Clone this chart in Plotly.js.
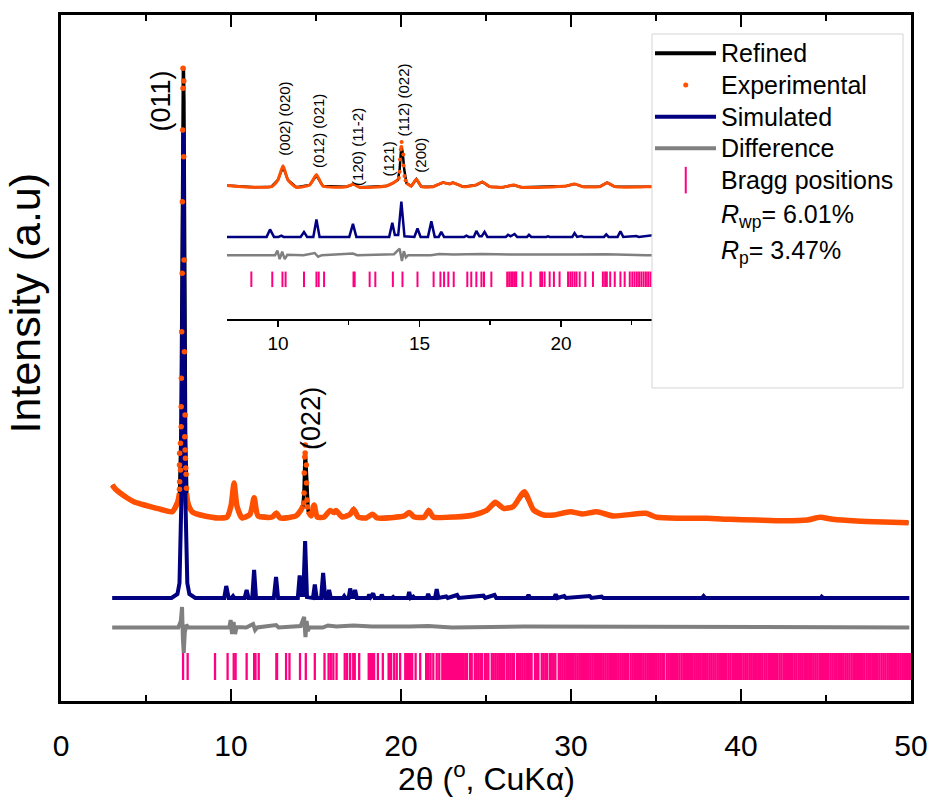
<!DOCTYPE html>
<html><head><meta charset="utf-8">
<script src="https://cdn.plot.ly/plotly-3.0.1.min.js"></script>
<style>body{margin:0;background:#fff}#chart{width:933px;height:802px}</style>
</head><body><div id="chart"></div>
<script>
// ---- Refined profile (black) ----
const refX=[3.01,3.2,3.5,3.9,4.28,4.8,5.26,5.9,6.54,6.87,6.97,7.05,7.12,7.17,7.20,7.23,7.28,7.33,7.40,7.47,7.71,8.2,9.2,9.77,10.0,10.18,10.35,10.65,11.12,11.36,11.59,12.42,12.67,12.89,13.83,14.06,14.24,14.30,14.34,14.37,14.41,14.46,14.54,14.71,14.89,15.07,15.48,15.83,16.07,16.18,16.54,17.01,17.22,17.48,17.95,18.33,18.6,20.19,20.48,20.78,21.37,21.63,21.9,23.19,24.27,25.06,25.55,26.03,26.6,27.25,27.8,28.4,29.0,29.95,30.7,31.5,32.5,34.4,35.05,36.4,38.0,39.35,40.9,42.5,43.9,44.65,45.4,46.8,48.4,49.85];
const refY=[216,212,207.7,203,199.3,196.5,194.3,191.5,189.3,199,207,262,420,600,634,600,420,262,207,197.7,189.3,186,183,184,195,216,195,183,186.8,202,185,184,187.9,183,185,189.6,195,212,238,249,238,212,190,185,196,184,184,190.5,188.4,190.5,184,186.8,191.7,184,183,186.8,183,185,188.4,184,184,190.5,184,184,186,190,198,192.7,194.3,208,191,186,186,189.3,187,189.3,185,187.7,183.7,182.7,182.7,181.7,181,180.3,181,183.7,181.7,180,179,178.3];
// ---- Experimental profile (orange, continuous part) ----
const expX=[3.01,3.2,3.5,3.9,4.28,4.8,5.26,5.9,6.54,6.87,6.97,null,7.38,7.47,7.71,8.2,9.2,9.77,10.0,10.18,10.35,10.65,11.12,11.36,11.59,12.42,12.67,12.89,13.83,14.06,14.24,null,14.54,14.71,14.89,15.07,15.48,15.83,16.07,16.18,16.54,17.01,17.22,17.48,17.95,18.33,18.6,20.19,20.48,20.78,21.37,21.63,21.9,23.19,24.27,25.06,25.55,26.03,26.6,27.25,27.8,28.4,29.0,29.95,30.7,31.5,32.5,34.4,35.05,36.4,38.0,39.35,40.9,42.5,43.9,44.65,45.4,46.8,48.4,49.85];
const expY=[216,212,207.7,203,199.3,196.5,194.3,191.5,189.3,199.3,207.7,null,207.7,197.7,189.3,186,183,184,195,217.9,195,183,186.8,203.2,185.1,184,187.9,183,185.1,189.6,195,null,189.6,185.1,196.1,184,184,190.5,188.4,190.5,184,186.8,191.7,184,183,186.8,183,185.1,188.4,184,184,190.5,184,184,186,191,198.7,192.7,194.3,209.3,191,186,186,189.3,187,189.3,185,187.7,183.7,182.7,182.7,181.7,181,180.3,181,183.7,181.7,180,179,178.3];
// ---- Experimental points on the sharp peaks (orange dots) ----
const expDotX=[7.18,7.22,7.18,7.16,7.22,7.14,7.24,7.13,7.10,7.26,7.08,7.07,7.30,7.07,7.28,7.03,7.30,6.98,7.32,6.97,7.34,7.03,7.36,6.98,7.38,6.97,14.37,14.36,14.34,14.43,14.31,14.44,14.30,14.47,14.27,14.51];
const expDotY=[632.7,620,612.7,571,544.3,499.3,441,427.7,369.3,349.3,322.7,294.3,286,274.3,264.3,257.7,251,247.7,242.7,236,233,231,226.7,219.3,212.7,211.7,256,248,244,236,228,218,208,201,198,194];
// ---- Simulated (navy) ----
const simX=[3.01,6.5,6.85,6.97,7.08,7.15,7.20,7.25,7.32,7.43,7.55,7.9,9.6,9.72,9.86,10.02,10.12,10.2,10.8,10.92,11.03,11.25,11.36,11.47,12.52,12.65,12.77,13.93,14.04,14.13,14.25,14.36,14.47,14.82,14.93,15.04,15.3,15.42,15.54,15.68,15.77,15.87,16.58,16.66,16.74,16.92,17.01,17.12,17.2,17.3,17.4,18.05,18.13,18.22,18.36,18.45,18.8,18.87,18.95,19.48,19.54,19.6,20.4,20.48,20.57,20.72,20.8,21.52,21.6,21.68,22.0,22.1,22.2,22.66,22.75,23.3,23.4,24.85,24.95,25.5,25.6,27.4,27.5,27.6,29.0,29.1,29.2,29.6,29.7,31.1,31.2,31.8,31.9,37.7,37.8,37.9,44.7,44.75,44.85,49.9];
const simY=[103,103,107,118,200,400,571,400,200,118,107,103,103,115,103,103,105,103,103,111,103,103,131,103,103,124,103,103,125.6,106,106,160,104,103,116.5,103,103,128,103,103,111,103,103,105,103,103,112.5,104,104,111,103,103,106.4,104,107.6,103,103,106.4,103,103,104,103,103,109,103,104.5,103,103,107,103,103,112,103,104.5,103,106,103,105.3,103,106,103,103,106,103,103,106.7,103,105,103,105,103,104.3,103,103,105,103,103,104.3,103,103];
// ---- Difference (grey) ----
const diffX=[3.01,5.0,6.9,7.05,7.12,7.17,7.22,7.28,7.36,7.5,9.9,9.98,10.06,10.15,10.24,10.33,10.9,11.3,11.42,11.55,12.65,12.8,14.1,14.3,14.38,14.45,14.52,14.6,15.4,15.7,16.2,17.2,18.3,20.5,21.6,23.0,27.2,49.9];
const diffY=[73.5,74,73.5,80,94,62,48,68,76,73.5,73.5,81,67,79,67,74,73.5,77,71,73.5,76,73.5,75,84,64,80,70,73.5,73.5,75.5,74.5,75.5,74.5,74.5,75,73.5,74.5,73.5];
// ---- Bragg positions (2theta) ----
const braggPos=[7.18,7.45,9.06,9.80,10.16,10.27,10.92,11.36,11.44,11.63,12.67,12.71,13.24,13.44,14.06,14.40,14.93,15.50,15.74,15.87,16.02,16.21,16.69,16.83,17.01,17.19,17.28,17.54,18.10,18.17,18.24,18.30,18.37,18.42,18.64,18.93,19.27,19.33,19.42,19.60,19.75,19.95,20.25,20.33,20.40,20.48,20.55,20.66,20.86,21.13,21.48,21.56,21.62,21.74,21.90,22.10,22.25,22.43,22.52,22.60,22.68,22.76,22.84,22.92,23.00,23.08,23.16,
23.24,23.36,23.47,23.58,23.69,23.8,23.88,24.06,24.16,24.34,24.45,24.56,24.67,24.76,24.93,25.04,25.14,25.34,25.45,25.56,25.67,25.78,25.89,25.99,26.07,26.22,26.33,26.44,26.55,26.64,26.82,26.93,27.04,27.15,27.26,27.37,27.48,27.59,27.68,27.88,27.99,28.08,28.28,28.39,28.5,28.6,28.76,28.87,28.98,29.08,29.28,29.39,29.5,29.61,29.72,29.83,29.94,
30.05,30.16,30.27,30.38,30.49,30.6,30.71,30.82,30.93,31.04,31.15,31.26,31.37,31.48,31.59,31.7,31.81,31.92,32.03,32.14,32.25,32.36,32.47,32.58,32.69,32.8,32.91,33.02,33.13,33.24,33.35,33.5,33.61,33.72,33.83,33.94,34.05,34.16,34.27,34.38,34.49,34.6,34.71,34.82,34.93,35.04,35.15,35.26,35.37,35.46,35.62,35.73,35.84,35.95,
36.06,36.17,36.27,36.38,36.5,36.61,36.71,36.83,36.94,37.05,37.16,37.28,37.39,37.49,37.6,37.72,37.83,37.93,38.04,38.16,38.27,38.38,38.49,38.61,38.72,38.82,38.94,39.05,39.15,39.27,39.38,39.5,39.6,39.71,39.83,39.94,
40.04,40.16,40.27,40.37,40.49,40.6,40.72,40.83,40.93,41.05,41.16,41.26,41.38,41.49,41.61,41.71,41.82,41.94,42.05,42.15,42.27,42.38,42.5,42.6,42.71,42.83,42.94,43.04,43.16,43.27,43.39,43.49,43.6,43.72,43.82,43.93,
44.05,44.16,44.27,44.38,44.49,44.61,44.71,44.83,44.94,45.05,45.15,45.27,45.38,45.49,45.6,45.72,45.83,45.93,46.04,46.16,46.27,46.38,46.5,46.61,46.71,46.82,46.94,47.05,47.16,47.26,47.38,47.49,47.6,47.72,47.83,47.94,
48.04,48.15,48.27,48.38,48.49,48.61,48.72,48.83,48.93,49.05,49.16,49.27,49.38,49.49,49.6,49.71,49.82,49.93];
const braggLevel=34.5;
// ---- text ----
const legendNames=['Refined','Experimental','Simulated','Difference','Bragg positions'];
const insetTickVals=[10,15,20,25];
const mainTickVals=[0,10,20,30,40,50];
const insetLabels=[
 {t:'(002) (020)',x:10.2,y:0.7915},
 {t:'(012) (021)',x:11.41,y:0.774},
 {t:'(120) (11-2)',x:12.83,y:0.748},
 {t:'(121)',x:13.91,y:0.762},
 {t:'(112) (022)',x:14.44,y:0.820},
 {t:'(200)',x:15.03,y:0.767}];

const ORANGE='#FF4F00', NAVY='#000080', GREY='#808080', PINK='#FF0080';
const FONT='"Liberation Sans", Arial, sans-serif';
const braggY=braggPos.map(()=>braggLevel);

function set(ax, ay, s){
  const a={xaxis:ax,yaxis:ay,showlegend:false,hoverinfo:'skip'};
  return [
    Object.assign({x:refX,y:refY,mode:'lines',line:{color:'#000',width:s.ref}},a),
    Object.assign({x:expX,y:expY,mode:'lines',line:{color:ORANGE,width:s.exp,shape:'spline',smoothing:0.6}},a),
    Object.assign({x:simX,y:simY,mode:'lines',line:{color:NAVY,width:s.sim}},a),
    Object.assign({x:diffX,y:diffY,mode:'lines',line:{color:GREY,width:s.diff}},a),
    Object.assign({x:braggPos,y:braggY,mode:'markers',marker:{symbol:'line-ns',size:s.bs,color:PINK,line:{color:PINK,width:s.bw}}},a),
    Object.assign({x:expDotX,y:expDotY,mode:'markers',marker:{size:s.dot,color:ORANGE,line:{width:0}}},a)
  ];
}
const data=[].concat(
  set('x','y',{ref:3.5,exp:5.5,sim:4,diff:4,bs:19.3,bw:2.3,dot:5.5}),
  set('x2','y2',{ref:2.5,exp:3,sim:2.5,diff:2.5,bs:11.1,bw:2,dot:4})
);

const ann=[];
ann.push({text:'Intensity (a.u)',xref:'paper',yref:'paper',x:-0.042,y:0.58,textangle:-90,showarrow:false,
  font:{family:FONT,size:43,color:'#000'},xanchor:'center',yanchor:'middle'});
ann.push({text:'2θ (<sup>o</sup>, CuKα)',xref:'paper',yref:'paper',x:0.5,y:-0.111,showarrow:false,
  font:{family:FONT,size:32,color:'#000'},xanchor:'center',yanchor:'middle'});
ann.push({text:'(011)',xref:'x',yref:'paper',x:5.94,y:0.828,textangle:-90,showarrow:false,
  font:{family:FONT,size:27,color:'#000'},xanchor:'center',yanchor:'bottom'});
ann.push({text:'(022)',xref:'x',yref:'paper',x:14.73,y:0.363,textangle:-90,showarrow:false,
  font:{family:FONT,size:27,color:'#000'},xanchor:'center',yanchor:'bottom'});
insetLabels.forEach(l=>ann.push({text:l.t,xref:'x2',yref:'paper',x:l.x,y:l.y,textangle:-90,showarrow:false,
  font:{family:FONT,size:15,color:'#000'},xanchor:'center',yanchor:'bottom'}));
const legY=[0.9442,0.898,0.8518,0.8057,0.7595];
legendNames.forEach((n,i)=>ann.push({text:n,xref:'paper',yref:'paper',x:0.774,y:legY[i],showarrow:false,
  font:{family:FONT,size:25,color:'#000'},xanchor:'left',yanchor:'middle'}));
ann.push({text:'<i>R</i><sub>wp</sub>= 6.01%',xref:'paper',yref:'paper',x:0.774,y:0.707,showarrow:false,
  font:{family:FONT,size:25,color:'#000'},xanchor:'left',yanchor:'middle'});
ann.push({text:'<i>R</i><sub>p</sub>= 3.47%',xref:'paper',yref:'paper',x:0.774,y:0.6545,showarrow:false,
  font:{family:FONT,size:25,color:'#000'},xanchor:'left',yanchor:'middle'});

const shapes=[
  {type:'rect',xref:'paper',yref:'paper',x0:0.6953,x1:0.9906,y0:0.4563,y1:0.9723,line:{color:'#d4d4d4',width:1},fillcolor:'#fff',layer:'above'},
  {type:'line',xref:'paper',yref:'paper',x0:0.6988,x1:0.7706,y0:0.9442,y1:0.9442,line:{color:'#000',width:4},layer:'above'},
  {type:'circle',xref:'paper',yref:'paper',xsizemode:'pixel',ysizemode:'pixel',xanchor:0.735,yanchor:0.898,x0:-2.5,x1:2.5,y0:-2.5,y1:2.5,fillcolor:ORANGE,line:{width:0},layer:'above'},
  {type:'line',xref:'paper',yref:'paper',x0:0.6988,x1:0.7706,y0:0.8518,y1:0.8518,line:{color:NAVY,width:4},layer:'above'},
  {type:'line',xref:'paper',yref:'paper',x0:0.6988,x1:0.7706,y0:0.8057,y1:0.8057,line:{color:GREY,width:4},layer:'above'},
  {type:'line',xref:'paper',yref:'paper',x0:0.735,x1:0.735,y0:0.7399,y1:0.7787,line:{color:PINK,width:2},layer:'above'}
];

const layout={
  width:933,height:802,margin:{l:61,r:22,t:15,b:101},
  paper_bgcolor:'#fff',plot_bgcolor:'#fff',showlegend:false,
  xaxis:{domain:[0,1],range:[0,50],anchor:'y',showline:true,linewidth:3,linecolor:'#000',mirror:'ticks',
    ticks:'inside',ticklen:12,tickwidth:2.5,tickcolor:'#000',tickmode:'array',tickvals:mainTickVals,
    minor:{dtick:5,tick0:0,ticks:'inside',ticklen:6,tickwidth:2.5,tickcolor:'#000',showgrid:false},
    showgrid:false,zeroline:false,tickfont:{family:FONT,size:30,color:'#000'},ticklabelstandoff:16},
  yaxis:{domain:[0,1],range:[0,686],anchor:'x',showline:true,linewidth:3,linecolor:'#000',mirror:true,
    ticks:'',showticklabels:false,showgrid:false,zeroline:false},
  xaxis2:{domain:[0.1953,0.788],range:[8.2,26],anchor:'y2',showline:true,linewidth:2,linecolor:'#000',
    ticks:'outside',ticklen:6,tickwidth:1.5,tickcolor:'#000',tickmode:'array',tickvals:insetTickVals,
    minor:{dtick:2.5,tick0:0,ticks:'outside',ticklen:4,tickwidth:1.5,tickcolor:'#000',showgrid:false},
    showgrid:false,zeroline:false,tickfont:{family:FONT,size:19,color:'#000'}},
  yaxis2:{domain:[0.5569,0.9344],range:[-29.4,388.3],anchor:'x2',visible:false,showgrid:false,zeroline:false},
  annotations:ann,shapes:shapes
};
Plotly.newPlot('chart',data,layout,{displayModeBar:false,staticPlot:true});
</script></body></html>
